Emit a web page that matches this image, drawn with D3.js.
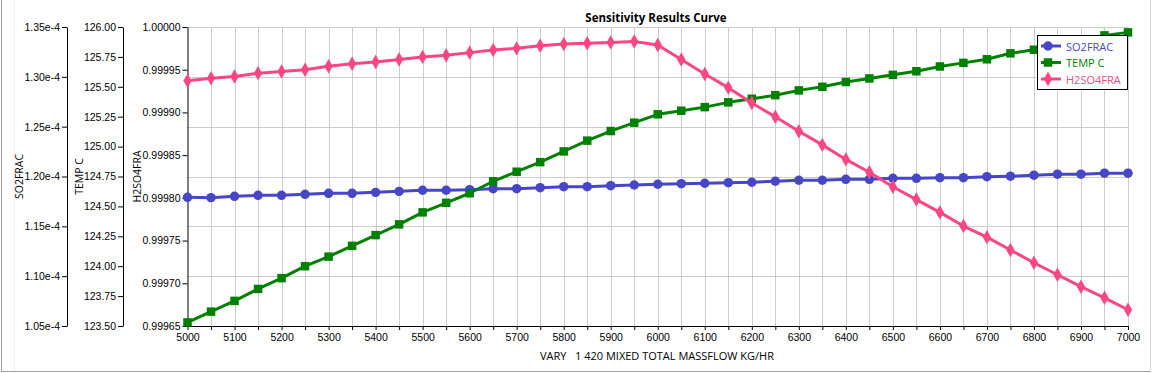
<!DOCTYPE html>
<html>
<head>
<meta charset="utf-8">
<script src="https://cdn.jsdelivr.net/npm/d3@7"></script>
<style>
  body { margin: 0; background: #fff; }
  svg { display: block; font-family: "Open Sans", "Noto Sans", sans-serif; }
  .axis text { font-size: 10.5px; fill: #000; }
  .axis path, .axis line { stroke: #000; }
</style>
</head>
<body>
<div class="chart"></div>
<script>
// x values: VARY 1 420 MIXED TOTAL MASSFLOW KG/HR
var massflow = d3.range(5000, 7001, 50);

var so2frac = [1.1791e-4, 1.1788e-4, 1.1801e-4, 1.1811e-4, 1.1811e-4, 1.1821e-4, 1.1831e-4, 1.1831e-4,
  1.1841e-4, 1.1851e-4, 1.1862e-4, 1.1862e-4, 1.1868e-4, 1.1878e-4, 1.1878e-4, 1.1888e-4,
  1.1898e-4, 1.1898e-4, 1.1908e-4, 1.1915e-4, 1.1922e-4, 1.1928e-4, 1.1932e-4, 1.1938e-4,
  1.1942e-4, 1.1952e-4, 1.1962e-4, 1.1962e-4, 1.1972e-4, 1.1972e-4, 1.1982e-4, 1.1982e-4,
  1.1988e-4, 1.1988e-4, 1.1998e-4, 1.2003e-4, 1.2013e-4, 1.2023e-4, 1.2023e-4, 1.2033e-4, 1.2033e-4];

var tempC = [123.53, 123.62, 123.71, 123.81, 123.90, 124.00, 124.08, 124.17, 124.26, 124.35,
  124.45, 124.53, 124.61, 124.71, 124.79, 124.87, 124.96, 125.05, 125.13, 125.20,
  125.27, 125.30, 125.33, 125.37, 125.40, 125.43, 125.47, 125.50, 125.54, 125.57,
  125.60, 125.63, 125.67, 125.70, 125.73, 125.78, 125.81, 125.85, 125.89, 125.93, 125.955];

var h2so4fra = [0.999937, 0.999940, 0.999942, 0.999946, 0.999948, 0.999950, 0.999954, 0.999957,
  0.999959, 0.999962, 0.999965, 0.999967, 0.999970, 0.999973, 0.999975, 0.999978,
  0.999980, 0.999981, 0.999982, 0.999983, 0.999979, 0.999962, 0.999945, 0.999929,
  0.999911, 0.999895, 0.999878, 0.999862, 0.999845, 0.999830, 0.999813, 0.999798,
  0.999783, 0.999767, 0.999754, 0.999739, 0.999724, 0.999710, 0.999696, 0.999683, 0.999669];

var so2Ticks = d3.range(0, 7).map(function(i){ return 1.05e-4 + i * 0.05e-4 });
var tempTicks = d3.range(0, 11).map(function(i){ return 123.5 + i * 0.25 });
var h2so4Ticks = d3.range(0, 8).map(function(i){ return 0.99965 + i * 0.00005 });

var width = 1153, height = 373;
var top_ = 27, bottom = 326, left = 187.5, right = 1128;

var svg = d3.select(".chart").append("svg")
    .attr("width", width)
    .attr("height", height);

// outer frame
svg.append("line").attr("x1", 1.5).attr("x2", 1.5).attr("y1", 0).attr("y2", 372)
    .attr("stroke", "#a0a0a0");
svg.append("line").attr("x1", 1).attr("x2", 1151).attr("y1", 371.5).attr("y2", 371.5)
    .attr("stroke", "#a0a0a0");
svg.append("line").attr("x1", 1150.5).attr("x2", 1150.5).attr("y1", 0).attr("y2", 372)
    .attr("stroke", "#d8d8d8");
svg.append("line").attr("x1", 14.5).attr("x2", 14.5).attr("y1", 0).attr("y2", 371)
    .attr("stroke", "#f2f2f2");

var x = d3.scaleLinear().domain([5000, 7000]).range([left, right]);
var ySo2 = d3.scaleLinear().domain([1.05e-4, 1.35e-4]).range([bottom, top_]);
var yTemp = d3.scaleLinear().domain([123.5, 126]).range([bottom, top_]);
var yH2 = d3.scaleLinear().domain([0.99965, 1.0]).range([bottom, top_]);

// grid
var grid = svg.append("g").attr("stroke", "#cccccc").attr("stroke-width", 1);
grid.selectAll(".vg").data(massflow.slice(1)).enter().append("line")
    .attr("x1", function(d){ return Math.round(x(d)) + 0.5 })
    .attr("x2", function(d){ return Math.round(x(d)) + 0.5 })
    .attr("y1", top_).attr("y2", bottom);
grid.selectAll(".hg").data(so2Ticks.slice(1)).enter().append("line")
    .attr("x1", left).attr("x2", right)
    .attr("y1", function(d){ return Math.round(ySo2(d)) + 0.5 })
    .attr("y2", function(d){ return Math.round(ySo2(d)) + 0.5 });

// axes
svg.append("g").attr("class", "axis")
    .attr("transform", "translate(67,0)")
    .call(d3.axisLeft(ySo2).tickValues(so2Ticks).tickSize(5).tickPadding(2).tickSizeOuter(0)
      .tickFormat(d3.format(".2e")));
svg.append("g").attr("class", "axis")
    .attr("transform", "translate(123,0)")
    .call(d3.axisLeft(yTemp).tickValues(tempTicks).tickSize(5).tickPadding(2).tickSizeOuter(0)
      .tickFormat(d3.format(".2f")));
svg.append("g").attr("class", "axis")
    .attr("transform", "translate(" + left + ",0)")
    .call(d3.axisLeft(yH2).tickValues(h2so4Ticks).tickSize(5).tickPadding(2).tickSizeOuter(0)
      .tickFormat(d3.format(".5f")));
svg.append("g").attr("class", "axis")
    .attr("transform", "translate(0," + bottom + ")")
    .call(d3.axisBottom(x).tickValues(massflow).tickSize(4).tickPadding(4).tickSizeOuter(0)
      .tickFormat(function(d){ return d % 100 === 0 ? d : "" }));

// axis titles
var yTitles = [["SO2FRAC", 19], ["TEMP C", 79], ["H2SO4FRA", 137]];
yTitles.forEach(function(t){
  svg.append("text")
      .attr("transform", "translate(" + t[1] + "," + ((top_ + bottom) / 2) + ") rotate(-90)")
      .attr("text-anchor", "middle")
      .attr("dominant-baseline", "central")
      .style("font-size", "10.5px")
      .text(t[0]);
});
svg.append("text")
    .attr("x", 657).attr("y", 355)
    .attr("text-anchor", "middle").attr("dominant-baseline", "central")
    .style("font-size", "11px")
    .attr("xml:space", "preserve")
    .style("white-space", "pre")
    .text("VARY   1 420 MIXED TOTAL MASSFLOW KG/HR");

svg.append("text")
    .attr("x", 656).attr("y", 17)
    .attr("text-anchor", "middle").attr("dominant-baseline", "central")
    .style("font-size", "11.5px").style("font-weight", "bold")
    .text("Sensitivity Results Curve");

// series
var series = [
  { name: "SO2FRAC", values: so2frac, y: ySo2, color: "#4646c6", shape: d3.symbolCircle, size: 70 },
  { name: "TEMP C", values: tempC, y: yTemp, color: "#008000", shape: d3.symbolSquare, size: 72 },
  { name: "H2SO4FRA", values: h2so4fra, y: yH2, color: "#fa4682", shape: d3.symbolDiamond, size: 60 }
];

series.forEach(function(s){
  var pts = massflow.map(function(m, i){ return [x(m), s.y(s.values[i])] });
  svg.append("path")
      .attr("d", d3.line()(pts))
      .attr("fill", "none")
      .attr("stroke", s.color)
      .attr("stroke-width", 3)
      .attr("stroke-linejoin", "round");
  svg.append("g").selectAll("path").data(pts).enter().append("path")
      .attr("transform", function(d){ return "translate(" + d[0] + "," + d[1] + ")" })
      .attr("d", d3.symbol().type(s.shape).size(s.size))
      .attr("fill", s.color);
});

// legend
var legend = svg.append("g");
legend.append("rect")
    .attr("x", 1037.5).attr("y", 35.5).attr("width", 90).attr("height", 54)
    .attr("fill", "#fff").attr("stroke", "#000");
series.forEach(function(s, i){
  var ly = 46 + i * 16.5;
  legend.append("line")
      .attr("x1", 1041).attr("x2", 1061).attr("y1", ly).attr("y2", ly)
      .attr("stroke", s.color).attr("stroke-width", 3);
  legend.append("path")
      .attr("transform", "translate(1048," + ly + ")")
      .attr("d", d3.symbol().type(s.shape).size(s.size))
      .attr("fill", s.color);
  legend.append("text")
      .attr("x", 1066).attr("y", ly)
      .attr("dominant-baseline", "central")
      .style("font-size", "11px")
      .attr("fill", s.color)
      .text(s.name);
});
</script>
</body>
</html>
